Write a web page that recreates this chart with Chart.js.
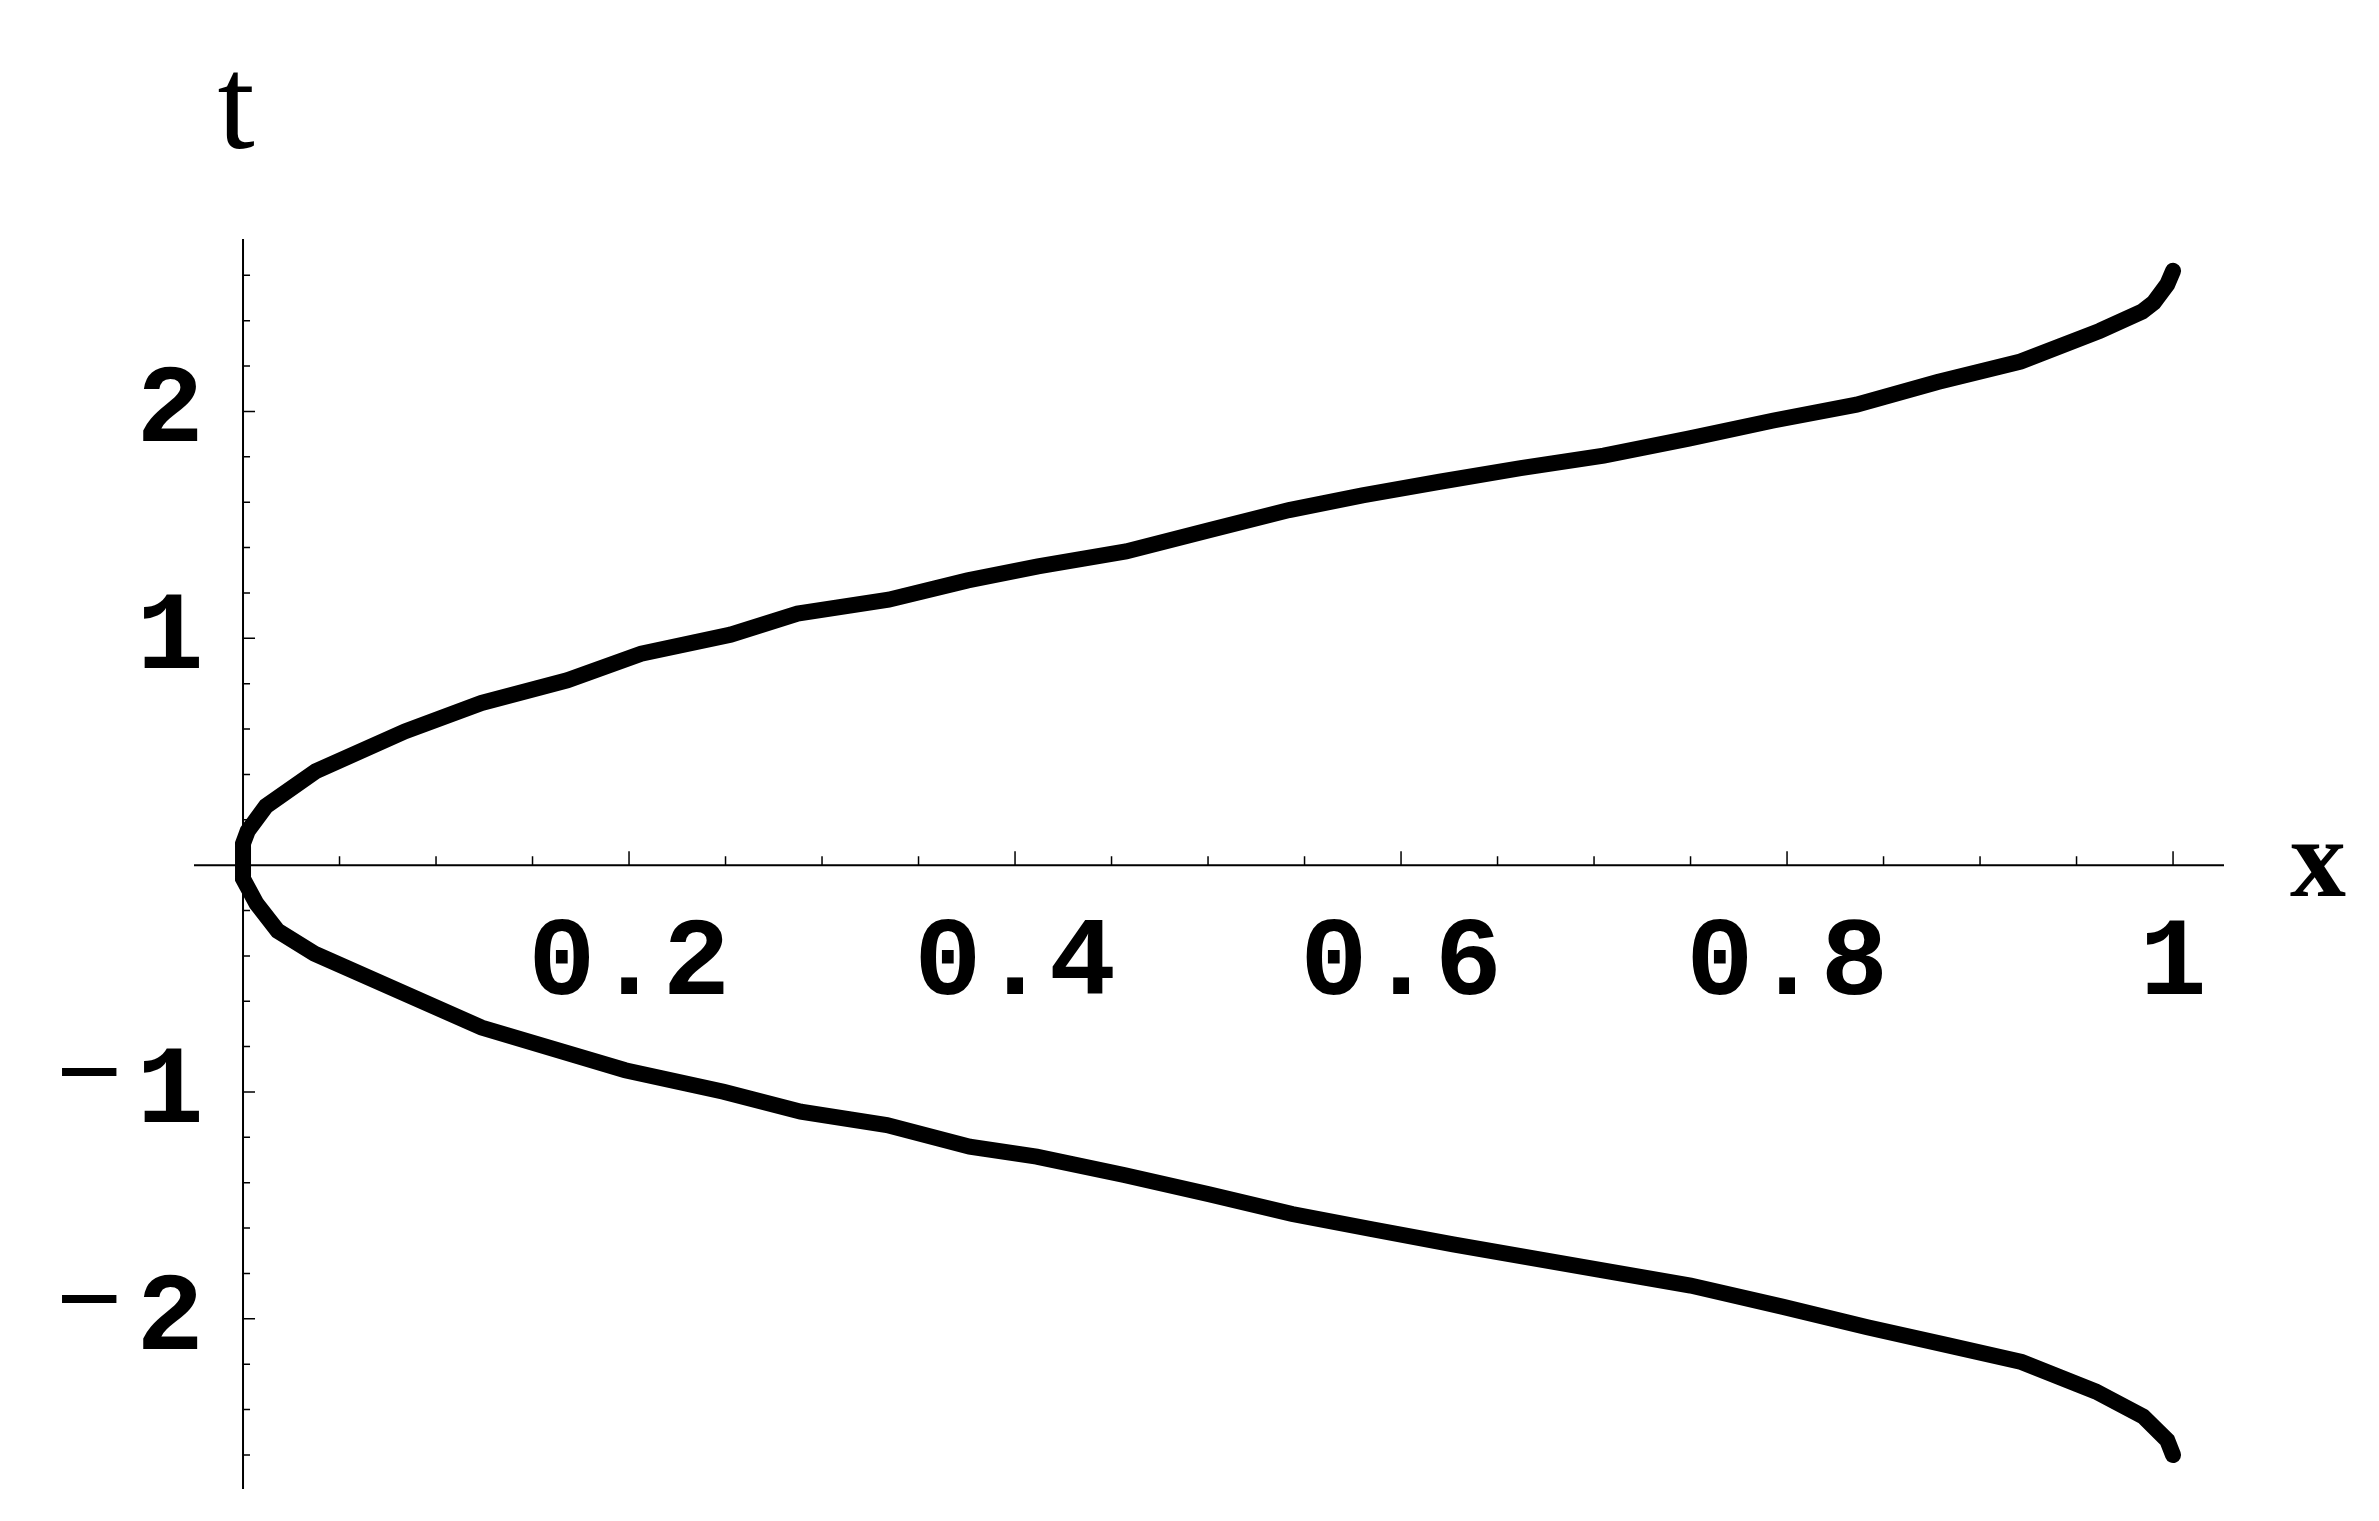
<!DOCTYPE html>
<html>
<head>
<meta charset="utf-8">
<title>t against x</title>
<script src="https://cdn.jsdelivr.net/npm/chart.js@4.4.1/dist/chart.umd.min.js"></script>
<style>
    html, body { margin: 0; padding: 0; background: #ffffff; }
    #chart-wrap { width: 2379px; height: 1521px; }
</style>
</head>
<body>
<div id="chart-wrap"><canvas id="curve-chart" width="2379" height="1521"></canvas></div>
<script>
// Curve points, traced from the upper end through the origin to the lower end
const curveX = [
    1.0, 0.997, 0.990, 0.984, 0.962, 0.921, 0.878, 0.836, 0.793, 0.749,
    0.705, 0.662, 0.620, 0.580, 0.542, 0.5005, 0.4575, 0.4119, 0.3755, 0.3345,
    0.2873, 0.2526, 0.2063, 0.168, 0.1236, 0.084, 0.0377, 0.0119, 0.0024, 0.0,
    0.0, 0.007, 0.018, 0.037, 0.1236, 0.198, 0.249, 0.289, 0.3336, 0.3765,
    0.4112, 0.4565, 0.5005, 0.5436, 0.585, 0.627, 0.668, 0.709, 0.750, 0.798,
    0.8416, 0.883, 0.9215, 0.960, 0.9845, 0.997, 1.0
];
const curveT = [
    2.62, 2.56, 2.48, 2.44, 2.355, 2.22, 2.13, 2.03, 1.96, 1.88,
    1.805, 1.75, 1.69, 1.63, 1.565, 1.476, 1.383, 1.317, 1.255, 1.170,
    1.109, 1.016, 0.932, 0.815, 0.715, 0.590, 0.414, 0.26, 0.15, 0.095,
    -0.06, -0.17, -0.29, -0.39, -0.716, -0.904, -0.999, -1.087, -1.146, -1.241,
    -1.285, -1.366, -1.451, -1.538, -1.605, -1.672, -1.732, -1.793, -1.853, -1.947,
    -2.037, -2.116, -2.19, -2.32, -2.43, -2.535, -2.60
];

// Axis ticks and labels
const xMajorTicks = [0.2, 0.4, 0.6, 0.8, 1];
const xTickLabels = ['0.2', '0.4', '0.6', '0.8', '1'];
const yMajorTicks = [2, 1, -1, -2];
const yTickLabels = ['2', '1', '\u22121', '\u22122'];
const xMinorStep = 0.05;
const yMinorStep = 0.2;
const xAxisTitle = 'x';
const yAxisTitle = 't';

const xMin = -0.0254, xMax = 1.0264;
const yMin = -2.75, yMax = 2.76;

const tickFont = 'bold 112px "Liberation Mono", "Courier New", monospace';

// Axes drawn through the origin, with ticks pointing inward
const crossAxes = {
    id: 'crossAxes',
    beforeDatasetsDraw(chart) {
        const { ctx, chartArea, scales: { x, y } } = chart;
        const x0 = x.getPixelForValue(0);
        const y0 = y.getPixelForValue(0);

        ctx.save();
        ctx.strokeStyle = '#000000';
        ctx.lineWidth = 2;
        ctx.beginPath();
        ctx.moveTo(chartArea.left, y0);
        ctx.lineTo(chartArea.right, y0);
        ctx.moveTo(x0, chartArea.top);
        ctx.lineTo(x0, chartArea.bottom);
        ctx.stroke();

        ctx.lineWidth = 1.5;
        ctx.beginPath();
        const nx = Math.round(xMax / xMinorStep);
        for (let i = 1; i <= nx; i++) {
            const v = i * xMinorStep;
            if (v > xMax) break;
            const px = x.getPixelForValue(v);
            const major = xMajorTicks.some(t => Math.abs(t - v) < 1e-6);
            ctx.moveTo(px, y0);
            ctx.lineTo(px, y0 - (major ? 14 : 9));
        }
        const ny = Math.floor(yMax / yMinorStep);
        for (let i = -ny; i <= ny; i++) {
            if (i === 0) continue;
            const v = i * yMinorStep;
            if (v < yMin || v > yMax) continue;
            const py = y.getPixelForValue(v);
            const major = yMajorTicks.some(t => Math.abs(t - v) < 1e-6);
            ctx.moveTo(x0, py);
            ctx.lineTo(x0 + (major ? 12 : 7), py);
        }
        ctx.stroke();
        ctx.restore();
    },
    afterDraw(chart) {
        const { ctx, chartArea, scales: { x, y } } = chart;
        const x0 = x.getPixelForValue(0);
        const y0 = y.getPixelForValue(0);

        ctx.save();
        ctx.fillStyle = '#000000';
        ctx.textBaseline = 'alphabetic';
        ctx.textAlign = 'center';

        // x tick labels under the axis
        ctx.font = tickFont;
        xMajorTicks.forEach((v, i) => {
            ctx.fillText(xTickLabels[i], x.getPixelForValue(v), y0 + 129);
        });

        // y tick labels left of the axis; the minus sign sits apart and higher
        yMajorTicks.forEach((v, i) => {
            const py = y.getPixelForValue(v);
            let label = yTickLabels[i];
            if (label.charAt(0) === '\u2212') {
                label = label.slice(1);
                ctx.font = '112px "Liberation Mono", "Courier New", monospace';
                const m = ctx.measureText('\u2212');
                const mid = (m.actualBoundingBoxDescent - m.actualBoundingBoxAscent) / 2;
                ctx.fillText('\u2212', x0 - 154, py - 20 - mid);
                ctx.font = tickFont;
            }
            ctx.fillText(label, x0 - 73, py + 30);
        });

        // axis titles
        ctx.font = 'bold 112px "Liberation Serif", "Times New Roman", serif';
        ctx.fillText(xAxisTitle, chartArea.right + 94, y0 + 31);

        ctx.font = '134px "Liberation Serif", "Times New Roman", serif';
        ctx.fillText(yAxisTitle, x0 - 7, chartArea.top - 91);
        ctx.restore();
    }
};

document.addEventListener('DOMContentLoaded', function() {
    const points = curveX.map((v, i) => ({ x: v, y: curveT[i] }));

    new Chart(document.getElementById('curve-chart'), {
        type: 'scatter',
        data: {
            datasets: [{
                data: points,
                showLine: true,
                borderColor: '#000000',
                backgroundColor: '#000000',
                borderWidth: 16,
                borderCapStyle: 'round',
                borderJoinStyle: 'miter',
                pointRadius: 0,
                pointHoverRadius: 0,
                tension: 0,
                fill: false
            }]
        },
        options: {
            responsive: false,
            animation: false,
            devicePixelRatio: 1,
            events: [],
            layout: {
                padding: { left: 194, right: 155, top: 239, bottom: 32 }
            },
            plugins: {
                legend: { display: false },
                tooltip: { enabled: false }
            },
            scales: {
                x: { type: 'linear', min: xMin, max: xMax, display: false },
                y: { type: 'linear', min: yMin, max: yMax, display: false }
            }
        },
        plugins: [crossAxes]
    });
});
</script>
</body>
</html>
